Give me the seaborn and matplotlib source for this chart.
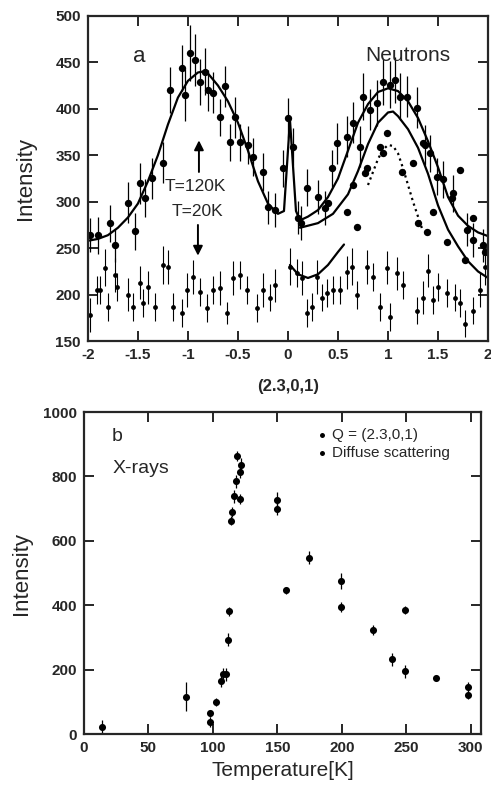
import matplotlib
matplotlib.use('Agg')
import matplotlib.pyplot as plt
import seaborn as sns

# ---- panel a: neutron scan along (2.3,0,1) ----
# T=120K points (filled circles)
hi_x = [-1.98, -1.90, -1.78, -1.73, -1.60, -1.53, -1.48, -1.43, -1.36, -1.25,
        -1.18, -1.06, -1.03, -0.98, -0.93, -0.88, -0.83, -0.80, -0.75, -0.68,
        -0.63, -0.58, -0.53, -0.48, -0.40, -0.35, -0.25, -0.20, -0.13, -0.05,
        0.00, 0.05, 0.10, 0.13, 0.19, 0.30, 0.37, 0.44, 0.49, 0.59,
        0.65, 0.72, 0.75, 0.82, 0.89, 0.95, 1.02, 1.07, 1.12, 1.19,
        1.29, 1.37, 1.42, 1.49, 1.55, 1.65, 1.79, 1.85, 1.95]
hi_y = [264, 264, 277, 253, 299, 268, 320, 304, 325, 342,
        420, 444, 415, 460, 452, 429, 440, 420, 417, 391,
        424, 364, 391, 364, 361, 348, 332, 294, 291, 336,
        390, 359, 283, 277, 315, 305, 293, 336, 363, 370,
        385, 359, 413, 399, 406, 429, 426, 431, 413, 413,
        401, 361, 352, 327, 324, 309, 270, 259, 253]
hi_err = [18, 20, 20, 18, 22, 20, 22, 20, 22, 22,
          25, 25, 28, 30, 28, 25, 25, 22, 22, 20,
          22, 20, 22, 20, 20, 20, 20, 18, 18, 20,
          22, 20, 18, 18, 20, 18, 18, 20, 22, 22,
          22, 22, 25, 22, 25, 25, 25, 25, 25, 22,
          22, 22, 20, 20, 20, 20, 18, 18, 18]

# intermediate points under the lower right-hand peak
mid_x = [0.40, 0.59, 0.65, 0.69, 0.77, 0.79, 0.92, 0.95, 0.99, 1.14,
         1.25, 1.30, 1.35, 1.39, 1.45, 1.59, 1.64, 1.72, 1.77, 1.85, 1.97]
mid_y = [299, 289, 318, 273, 331, 336, 359, 352, 374, 332,
         342, 277, 363, 267, 289, 257, 304, 334, 237, 283, 246]

# T=20K points (small markers)
lo_x = [-1.98, -1.91, -1.88, -1.83, -1.80, -1.73, -1.71, -1.60, -1.55, -1.48,
        -1.45, -1.40, -1.33, -1.25, -1.20, -1.15, -1.06, -1.01, -0.95, -0.88,
        -0.81, -0.75, -0.68, -0.61, -0.55, -0.48, -0.41, -0.31, -0.25, -0.18,
        -0.13, 0.02, 0.09, 0.14, 0.19, 0.24, 0.29, 0.34, 0.39, 0.45,
        0.52, 0.59, 0.64, 0.69, 0.79, 0.85, 0.92, 0.99, 1.02, 1.09,
        1.15, 1.29, 1.35, 1.40, 1.45, 1.50, 1.59, 1.67, 1.72, 1.77,
        1.85, 1.92, 1.97]
lo_y = [178, 205, 205, 229, 187, 221, 208, 200, 187, 213,
        191, 208, 187, 232, 230, 187, 180, 205, 219, 203,
        186, 205, 207, 180, 218, 221, 205, 186, 205, 197,
        210, 230, 223, 218, 180, 187, 219, 197, 202, 205,
        205, 224, 230, 200, 230, 219, 187, 229, 176, 223,
        210, 183, 197, 226, 194, 208, 202, 197, 191, 169,
        183, 205, 230]
lo_err = [18, 15, 15, 20, 15, 18, 15, 18, 15, 18,
          15, 18, 15, 20, 18, 15, 15, 18, 18, 15,
          15, 15, 18, 12, 18, 15, 15, 15, 18, 15,
          18, 20, 15, 18, 15, 15, 18, 15, 15, 15,
          15, 18, 20, 15, 18, 15, 15, 18, 15, 18,
          15, 15, 18, 18, 15, 15, 15, 15, 15, 15,
          15, 18, 20]

# fitted curves
fit_hi_x = [-2.0, -1.9, -1.8, -1.7, -1.6, -1.5, -1.4, -1.3, -1.2, -1.1,
            -1.0, -0.9, -0.85, -0.8, -0.7, -0.6, -0.5, -0.4, -0.3, -0.2,
            -0.1, -0.04, 0.02, 0.08, 0.12, 0.2, 0.3, 0.4, 0.5, 0.6,
            0.7, 0.8, 0.9, 1.0, 1.1, 1.2, 1.3, 1.4, 1.5, 1.6,
            1.7, 1.8, 1.9, 2.0]
fit_hi_y = [258, 260, 264, 272, 283, 298, 322, 350, 383, 412,
            430, 439, 440, 438, 425, 408, 385, 355, 322, 298,
            287, 290, 388, 290, 280, 284, 291, 305, 325, 355,
            385, 405, 418, 422, 419, 408, 390, 365, 337, 305,
            285, 274, 267, 263]
fit_mid_x = [0.12, 0.3, 0.45, 0.6, 0.7, 0.8, 0.9, 1.0, 1.05, 1.1,
             1.2, 1.3, 1.4, 1.5, 1.6, 1.7, 1.8, 1.9, 2.0]
fit_mid_y = [272, 277, 287, 308, 333, 362, 385, 396, 397, 392,
             378, 358, 330, 296, 270, 252, 236, 225, 218]
fit_lo_x = [0.02, 0.1, 0.2, 0.3, 0.4, 0.5, 0.56]
fit_lo_y = [232, 222, 218, 222, 232, 246, 254]
dot_x = [0.8, 0.9, 0.95, 1.0, 1.05, 1.1, 1.15, 1.25, 1.35]
dot_y = [318, 346, 356, 361, 360, 352, 336, 300, 268]

a_xticks = [-2, -1.5, -1, -0.5, 0, 0.5, 1, 1.5, 2]
a_xticklabels = ['-2', '-1.5', '-1', '-0.5', '0', '0.5', '1', '1.5', '2']
a_yticks = [150, 200, 250, 300, 350, 400, 450, 500]

# ---- panel b: X-ray intensity vs temperature ----
q_T = [14, 79, 98, 102, 106, 110, 112.6, 114, 115, 116, 117.8, 118.6, 121, 121.7,
       150, 174.6, 199, 224, 249, 273, 298]
q_I = [22, 116, 38, 99, 165, 186, 381, 663, 690, 739, 785, 864, 815, 836,
       727, 547, 476, 323, 385, 174, 147]
q_err = [20, 45, 15, 12, 20, 20, 15, 15, 15, 20, 20, 15, 20, 20,
         25, 20, 25, 15, 12, 10, 15]
d_T = [98, 108, 111.6, 121, 150, 156.6, 199, 239, 249, 298]
d_I = [64, 186, 293, 730, 699, 446, 394, 232, 195, 122]
d_err = [12, 20, 20, 15, 20, 10, 15, 20, 20, 12]

b_xticks = [0, 50, 100, 150, 200, 250, 300]
b_yticks = [0, 200, 400, 600, 800, 1000]

sns.set_style('ticks')
plt.rcParams['font.family'] = ['Liberation Sans', 'DejaVu Sans']
plt.rcParams['axes.linewidth'] = 1.6

fig = plt.figure(figsize=(4.91, 7.88), dpi=100)
ax_a = fig.add_axes([0.179, 0.567, 0.815, 0.413])
ax_b = fig.add_axes([0.171, 0.0685, 0.809, 0.4086])

# panel a
ax_a.errorbar(hi_x, hi_y, yerr=hi_err, fmt='none', ecolor='black', elinewidth=0.9)
ax_a.errorbar(lo_x, lo_y, yerr=lo_err, fmt='none', ecolor='black', elinewidth=0.8)
for cx, cy, ls in [(fit_hi_x, fit_hi_y, '-'), (fit_mid_x, fit_mid_y, '-'),
                   (fit_lo_x, fit_lo_y, '-'), (dot_x, dot_y, ':')]:
    sns.lineplot(x=cx, y=cy, ax=ax_a, color='black', lw=1.6, linestyle=ls,
                 sort=False, estimator=None)
sns.scatterplot(x=hi_x, y=hi_y, ax=ax_a, color='black', s=28, edgecolor='black', linewidth=0)
sns.scatterplot(x=mid_x, y=mid_y, ax=ax_a, color='black', s=28, edgecolor='black', linewidth=0)
sns.scatterplot(x=lo_x, y=lo_y, ax=ax_a, color='black', s=12, edgecolor='black', linewidth=0)

ax_a.set_xlim(-2, 2)
ax_a.set_ylim(150, 500)
ax_a.set_xticks(a_xticks)
ax_a.set_xticklabels(a_xticklabels)
ax_a.set_yticks(a_yticks)
ax_a.set_xlabel('(2.3,0,1)', fontsize=12, fontweight='bold', labelpad=12)
ax_a.set_ylabel('Intensity', fontsize=16, labelpad=14)

ax_a.text(-1.49, 456, 'a', fontsize=16, ha='center', va='center')
ax_a.text(1.20, 457, 'Neutrons', fontsize=15, ha='center', va='center')
ax_a.text(-0.93, 316, 'T=120K', fontsize=12.5, ha='center', va='center')
ax_a.text(-0.90, 289, 'T=20K', fontsize=12.5, ha='center', va='center')
ax_a.annotate('', xy=(-0.89, 369), xytext=(-0.89, 329),
              arrowprops=dict(arrowstyle='-|>', color='black', lw=1.4, mutation_scale=14))
ax_a.annotate('', xy=(-0.90, 239), xytext=(-0.90, 278),
              arrowprops=dict(arrowstyle='-|>', color='black', lw=1.4, mutation_scale=14))

# panel b
ax_b.errorbar(q_T, q_I, yerr=q_err, fmt='none', ecolor='black', elinewidth=0.9)
ax_b.errorbar(d_T, d_I, yerr=d_err, fmt='none', ecolor='black', elinewidth=0.9)
sns.scatterplot(x=q_T, y=q_I, ax=ax_b, color='black', s=26, linewidth=0,
                label='Q = (2.3,0,1)')
sns.scatterplot(x=d_T, y=d_I, ax=ax_b, color='black', s=26, linewidth=0,
                label='Diffuse scattering')
ax_b.legend(loc='upper left', bbox_to_anchor=(0.56, 0.975), frameon=False,
            fontsize=11, handletextpad=0.2, labelspacing=0.3, borderpad=0,
            handlelength=1.0, markerscale=0.7)

ax_b.set_xlim(0, 308)
ax_b.set_ylim(0, 1000)
ax_b.set_xticks(b_xticks)
ax_b.set_yticks(b_yticks)
ax_b.set_xlabel('Temperature[K]', fontsize=15, labelpad=4)
ax_b.set_ylabel('Intensity', fontsize=16, labelpad=8)
ax_b.text(26, 925, 'b', fontsize=14, ha='center', va='center')
ax_b.text(22, 826, 'X-rays', fontsize=14, ha='left', va='center')

for ax in (ax_a, ax_b):
    ax.tick_params(direction='in', length=7, width=1.4, top=True, right=True,
                   labelsize=11, pad=5)
    for lbl in ax.get_xticklabels() + ax.get_yticklabels():
        lbl.set_fontweight('bold')
    for sp in ax.spines.values():
        sp.set_visible(True)
        sp.set_linewidth(1.6)

fig.savefig('out.png', dpi=100)
